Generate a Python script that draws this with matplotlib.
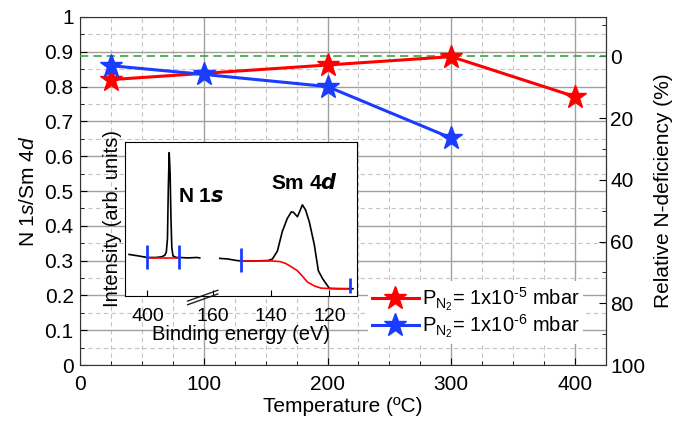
import numpy as np
import matplotlib
matplotlib.use('Agg')
import matplotlib.pyplot as plt
from matplotlib.ticker import MultipleLocator, FixedLocator, NullLocator

plt.rcParams['font.family'] = ['Liberation Sans', 'DejaVu Sans']
plt.rcParams['mathtext.fontset'] = 'custom'
plt.rcParams['mathtext.rm'] = 'Liberation Sans'
plt.rcParams['mathtext.it'] = 'Liberation Sans:italic'
plt.rcParams['mathtext.bf'] = 'Liberation Sans:bold'

#============================================================================#
# DATA
temp_hi = [25, 200, 300, 400]          # P_N2 = 1x10^-5 mbar
ratio_hi = [0.820, 0.862, 0.886, 0.771]
temp_lo = [25, 100, 200, 300]          # P_N2 = 1x10^-6 mbar
ratio_lo = [0.860, 0.835, 0.800, 0.652]
ref_ratio = 0.887                      # 0 % N-deficiency

label_hi = r'P$_{\mathregular{N_2}}$= 1x10$^{\mathregular{\text{-}5}}$ mbar'
label_lo = r'P$_{\mathregular{N_2}}$= 1x10$^{\mathregular{\text{-}6}}$ mbar'

# inset spectra (binding energy in eV, intensity arb. units)
n1s_E = [406.3, 403, 400, 397, 395, 394, 393.5, 393.1, 392.8, 392.5, 392.2,
         391.9, 391.6, 391.2, 390, 389, 386, 383, 382]
n1s_I = [0.255, 0.245, 0.235, 0.235, 0.24, 0.25, 0.27, 0.36, 0.70, 0.93, 0.80,
         0.50, 0.30, 0.245, 0.235, 0.235, 0.232, 0.235, 0.232]
n1s_bg_E = [400, 389]
n1s_bg_I = [0.233, 0.233]

sm4d_E = [157.7, 155, 152, 150.5, 147, 144, 141, 139.6, 137.9, 136.2, 134.5,
          133.1, 132.4, 131.0, 130.0, 129.3, 128.2, 126.9, 125.2, 123.8, 122.3,
          120, 117, 114, 111.9]
sm4d_I = [0.229, 0.225, 0.215, 0.212, 0.212, 0.213, 0.215, 0.225, 0.277, 0.407,
          0.493, 0.537, 0.535, 0.505, 0.55, 0.584, 0.55, 0.47, 0.32, 0.147, 0.093,
          0.03, 0.028, 0.028, 0.028]
sm4d_bg_E = [150.5, 140, 137, 135, 133, 131, 129, 127.5, 125, 122.9, 120, 113.7]
sm4d_bg_I = [0.212, 0.212, 0.208, 0.195, 0.172, 0.147, 0.105, 0.071, 0.045, 0.032, 0.029, 0.028]

marker_E = [400, 389, 150.5, 112.9]
marker_lo = [0.158, 0.158, 0.14, 0.0]
marker_hi = [0.32, 0.32, 0.30, 0.10]

inset_ticks = [400, 160, 140, 120]

#============================================================================#
fig = plt.figure(figsize=(6.82, 4.24), dpi=100)
ax = fig.add_axes([0.1173, 0.139, 0.7713, 0.821])

ax.plot(temp_hi, ratio_hi, '-*', color='#ff0000', lw=2.2, ms=17, label=label_hi, zorder=5)
ax.plot(temp_lo, ratio_lo, '-*', color='#1a3cff', lw=2.2, ms=17, label=label_lo, zorder=5)
ax.axhline(ref_ratio, color='#3aa63a', ls=(0, (5, 3)), lw=1.2, zorder=4)

ax.set_xlim(0, 425)
ax.set_ylim(0, 1)
ax.xaxis.set_major_locator(MultipleLocator(100))
ax.xaxis.set_minor_locator(MultipleLocator(25))
ax.yaxis.set_major_locator(MultipleLocator(0.1))
ax.yaxis.set_minor_locator(MultipleLocator(0.05))
ax.set_yticks(np.arange(0, 1.01, 0.1))
ax.set_yticklabels(['0', '0.1', '0.2', '0.3', '0.4', '0.5', '0.6', '0.7', '0.8', '0.9', '1'])
ax.grid(which='major', color='#a0a0a0', lw=1, ls='-')
ax.grid(which='minor', color='#c4c4c4', lw=0.8, ls=(0, (4, 3)))
ax.set_axisbelow(True)
ax.tick_params(which='both', direction='in', top=False, right=False, labelsize=15)
ax.tick_params(which='major', length=5)
ax.tick_params(which='minor', length=3)
ax.tick_params(axis='x', pad=7.3)
ax.tick_params(axis='y', pad=4.5)
for s in ax.spines.values():
    s.set_color('#333333')
ax.set_xlabel('Temperature (ºC)', fontsize=15, labelpad=2)
ax.set_ylabel(r'N 1$\it{s}$/Sm 4$\it{d}$', fontsize=15, labelpad=5)

sec = ax.secondary_yaxis('right', functions=(lambda y: (1 - y / ref_ratio) * 100,
                                             lambda p: (1 - p / 100) * ref_ratio))
sec.yaxis.set_major_locator(FixedLocator([0, 20, 40, 60, 80, 100]))
sec.yaxis.set_minor_locator(FixedLocator([-10, 10, 30, 50, 70, 90]))
sec.tick_params(which='both', direction='in', labelsize=15, pad=3)
sec.tick_params(which='major', length=5)
sec.tick_params(which='minor', length=3)
sec.set_ylabel('Relative N-deficiency (%)', fontsize=15, labelpad=6)

leg = ax.legend(loc='center left', bbox_to_anchor=(0.548, 0.151), fontsize=14.5,
                handlelength=2.3, handletextpad=0.15, labelspacing=-0.05,
                borderpad=0.2, borderaxespad=0, frameon=True, fancybox=False)
leg.get_frame().set_edgecolor('none')
leg.get_frame().set_facecolor('white')
leg.get_frame().set_alpha(1)

#============================================================================#
# INSET with broken energy axis
def fwd(E):
    E = np.asarray(E, dtype=float)
    return np.where(E > 270, E - 217.4, E)

def inv(u):
    u = np.asarray(u, dtype=float)
    return np.where(u > 162.3, u + 217.4, u)

axi = fig.add_axes([0.1833, 0.302, 0.3402, 0.363])
axi.set_xscale('function', functions=(fwd, inv))
axi.plot(n1s_E, n1s_I, color='black', lw=1.2)
axi.plot(n1s_bg_E, n1s_bg_I, color='#ff0000', lw=1.2)
axi.plot(sm4d_E, sm4d_I, color='black', lw=1.2)
axi.plot(sm4d_bg_E, sm4d_bg_I, color='#ff0000', lw=1.2)
axi.vlines(marker_E, marker_lo, marker_hi, color='#1a3cff', lw=2, zorder=5)
axi.set_xlim(407.7, 110.5)
axi.set_ylim(-0.02, 1.0)
axi.xaxis.set_major_locator(FixedLocator(inset_ticks))
axi.xaxis.set_minor_locator(NullLocator())
axi.set_xticklabels([str(t) for t in inset_ticks])
axi.yaxis.set_major_locator(NullLocator())
axi.tick_params(axis='x', direction='in', length=4, labelsize=14, pad=8.5)
axi.set_xlabel('Binding energy (eV)', fontsize=14.5, labelpad=0)
axi.set_ylabel('Intensity (arb. units)', fontsize=14.5, labelpad=2)
axi.text(389.5, 0.60, r'N 1$\mathbfit{s}$', fontsize=15, fontweight='bold')
axi.text(140.2, 0.69, r'Sm 4$\mathbfit{d}$', fontsize=15, fontweight='bold')

# break marks on the bottom axis
for dy in (-0.012, 0.012):
    axi.plot([0.27, 0.40], [-0.045 + dy, 0.025 + dy], color='#222222',
             lw=1.0, transform=axi.transAxes, clip_on=False)

fig.savefig('out.png', dpi=100)
